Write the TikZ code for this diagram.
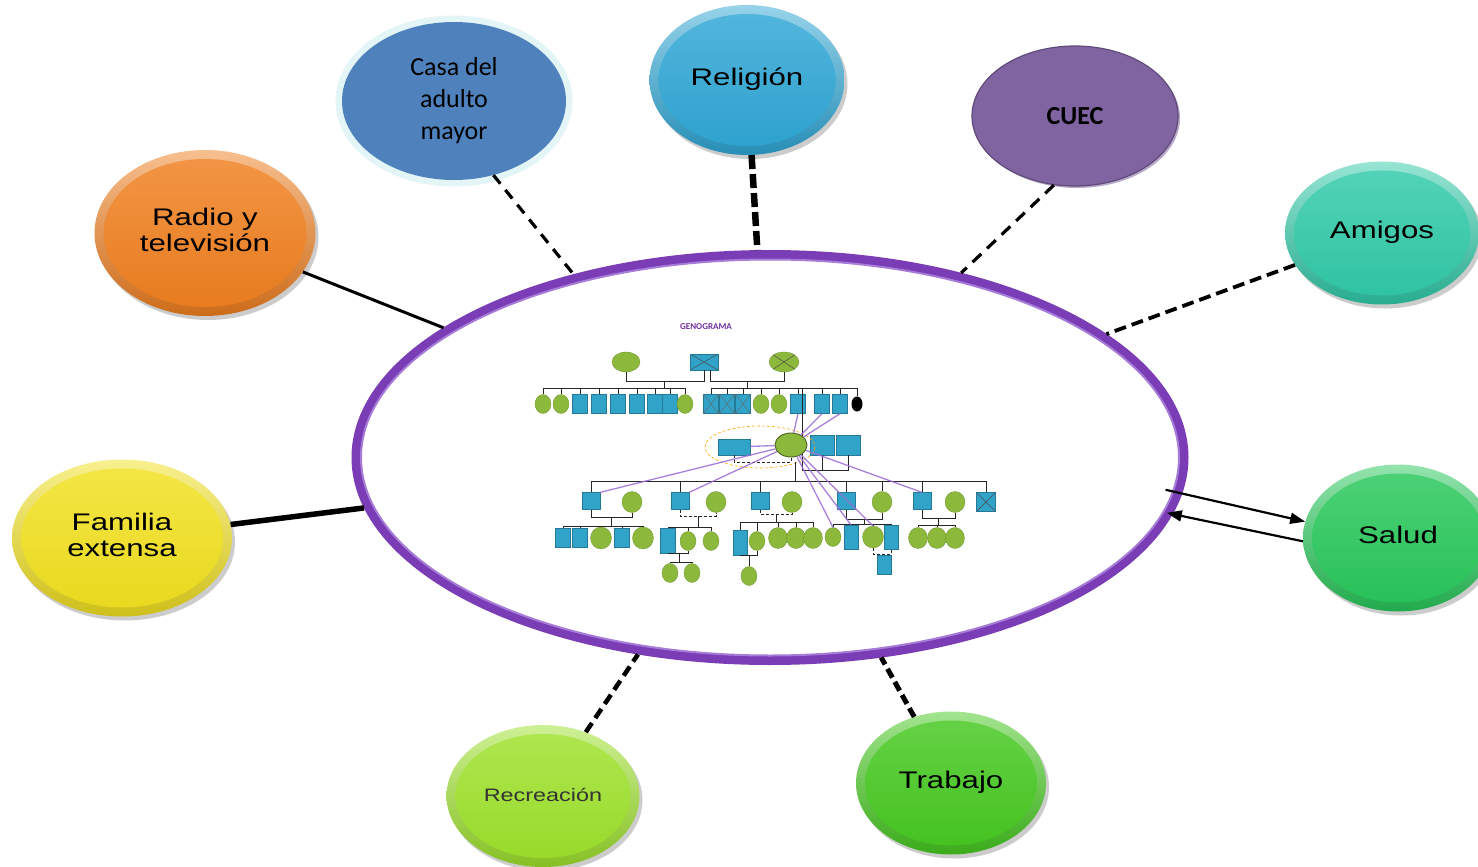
\documentclass[tikz,border=0pt]{standalone}
\usepackage{fontspec}
\usepackage{graphicx}
\usetikzlibrary{shapes.geometric,arrows.meta,shadows,calc}
\newfontfamily\arialf{Liberation Sans}
\newfontfamily\calibf{Carlito}
\definecolor{ringp}{HTML}{7B3DB5}
\definecolor{ringl}{HTML}{A77BD8}
\definecolor{cRadio}{HTML}{F07F1E}
\definecolor{cRel}{HTML}{2EA7D6}
\definecolor{cAmi}{HTML}{2FCAA8}
\definecolor{cSal}{HTML}{27C85A}
\definecolor{cTra}{HTML}{45C91F}
\definecolor{cRec}{HTML}{9DE22A}
\definecolor{cFam}{HTML}{F2E11E}
\definecolor{cCasa}{HTML}{4F81BD}
\definecolor{cGlow}{HTML}{E3F5F6}
\definecolor{cCuec}{HTML}{8064A2}
\definecolor{genob}{HTML}{31A2C8}
\definecolor{genog}{HTML}{8CB83C}
\definecolor{genot}{HTML}{7030A0}
\definecolor{linev}{HTML}{9B6BD6}
\newcommand\bubtext[2][24]{{\arialf\fontsize{#1}{26}\selectfont\scalebox{1.3}[1]{\begin{tabular}{@{}c@{}}#2\end{tabular}}}}
\tikzset{
  bub/.style={ellipse, inner sep=0pt, top color=#1!50!white, bottom color=#1!85!black,
    drop shadow={shadow xshift=3pt, shadow yshift=-4pt, opacity=0.2, fill=black},
    path picture={\shade[top color=#1!82!white, bottom color=#1!96!black]
      let \p1=(path picture bounding box.north east), \p2=(path picture bounding box.center)
      in (\p2) ellipse ({\x1-\x2-9pt} and {\y1-\y2-9pt});}},
  solidc/.style={draw=black, line cap=butt},
  dashc/.style={draw=black, dash pattern=on 12pt off 7pt},
  gm/.style={rectangle, fill=genob, draw=genob!75!black, line width=0.3pt, inner sep=0pt, minimum width=15pt, minimum height=19pt},
  gf/.style={ellipse, fill=genog, draw=genog!80!black, line width=0.3pt, inner sep=0pt, minimum width=16pt, minimum height=19pt},
  gx/.style={path picture={\draw[black!70, line width=0.5pt] (path picture bounding box.south west) -- (path picture bounding box.north east) (path picture bounding box.north west) -- (path picture bounding box.south east);}},
  gl/.style={draw=black!85, line width=0.8pt},
  pl/.style={draw=linev, line width=1.3pt, opacity=0.85},
}
\begin{document}
\begin{tikzpicture}[x=1pt,y=-1pt]
\useasboundingbox (0,0) rectangle (1478,867);
\fill[white] (0,0) rectangle (1478,867);

% central ring
\node[ellipse, draw=ringp, line width=9pt, fill=white, inner sep=0pt,
      minimum width=828pt, minimum height=406pt] (ring) at (770,457.5) {};
\draw[ringl, line width=2pt] (770,457.5) ellipse (409 and 198);

% outer bubbles
\node[bub=cRadio, minimum width=221pt, minimum height=166pt] (radio) at (205,233) {\bubtext{Radio y\\televisión}};
\node[bub=cRel, minimum width=195pt, minimum height=150pt] (rel) at (747,80) {\bubtext{Religión}};
\node[bub=cAmi, minimum width=194pt, minimum height=143pt] (ami) at (1382,233) {\bubtext{Amigos}};
\node[bub=cSal, minimum width=190pt, minimum height=147pt] (sal) at (1398,538) {\bubtext{Salud}};
\node[bub=cTra, minimum width=190pt, minimum height=143pt] (tra) at (951,783) {\bubtext{Trabajo}};
\node[bub=cRec, minimum width=193pt, minimum height=142pt] (rec) at (543,796) {\color{black!80}\bubtext[18]{Recreación}};
\node[bub=cFam, minimum width=220pt, minimum height=157pt] (fam) at (122,538) {\bubtext{Familia\\extensa}};
\node[ellipse, inner sep=0pt, fill=cCasa, preaction={draw=cGlow, line width=13pt},
      minimum width=224pt, minimum height=158pt] (casa) at (454,101)
      {\calibf\fontsize{26}{32}\selectfont\begin{tabular}{@{}c@{}}Casa del\\adulto\\mayor\end{tabular}};
\node[ellipse, inner sep=0pt, fill=cCuec, draw=cCuec!75!black, line width=1.2pt,
      drop shadow={shadow xshift=2pt, shadow yshift=-2pt, opacity=1, fill=cCuec!55!white},
      minimum width=206pt, minimum height=140pt] (cuec) at (1075,116)
      {\calibf\bfseries\fontsize{26}{30}\selectfont CUEC};

% connectors
\draw[solidc, line width=3pt] (radio) -- (ring);
\draw[solidc, line width=5.5pt] (fam) -- (ring);
\draw[dashc, line width=3.2pt, dash pattern=on 11pt off 8pt] (casa.-62) -- (ring.137);
\draw[dashc, line width=6.5pt, dash pattern=on 14pt off 5pt] (rel) -- (ring);
\draw[dashc, line width=3.2pt, dash pattern=on 12pt off 8pt] (cuec.-107) -- (ring.44);
\draw[dashc, line width=3.8pt, dash pattern=on 12pt off 6pt] (ami) -- (ring);
\draw[dashc, line width=5pt, dash pattern=on 10pt off 5pt] (tra) -- (ring);
\draw[dashc, line width=4.5pt, dash pattern=on 11pt off 6pt] (rec) -- (ring);
\draw[line width=2.2pt, -{Triangle[length=15pt,width=11pt]}, shorten <=-17pt] (ring.-5) -- (sal.170);
\draw[line width=2.2pt, -{Triangle[length=15pt,width=11pt]}, shorten >=-6pt] (sal.182) -- (ring.-8);

% ---------------- genogram ----------------
\node[font=\calibf\bfseries\fontsize{9}{10}\selectfont, text=genot] (gtitle) at (706,327) {GENOGRAMA};
% generation 1
\node[gf, minimum width=28pt, minimum height=20pt] (i1) at (626,362) {};
\node[gm, gx, minimum width=28pt, minimum height=16pt] (i2) at (704,362) {};
\node[gf, gx, minimum width=30pt, minimum height=20pt] (i3) at (784,362) {};
\draw[gl] (i1.south) -- (i1.south |- 0,381) -- (i2.south |- 0,381) -- (i2.south);
\draw[gl] (710,370) -- (710,381) -- (i3.south |- 0,381) -- (i3.south);
% children of first couple
\foreach \n/\x/\t in {a1/543/gf,a2/561/gf,a3/580/gm,a4/599/gm,a5/618/gm,a6/637/gm,a7/655/gm,a8/670/gm,a9/685/gf}
  {\node[\t] (\n) at (\x,404) {}; \draw[gl] (\n.north) -- (\n.north |- 0,388);}
\draw[gl] (a1.north |- 0,388) -- (a9.north |- 0,388);
\draw[gl] (664,381) -- (664,388);
% children of second couple
\foreach \n/\x/\t in {b1/711/gm,b2/727/gm,b3/743/gm,b4/761/gf,b5/779/gf,b6/798/gm,b7/822/gm,b8/840/gm}
  {\node[\t] (\n) at (\x,404) {}; \draw[gl] (\n.north) -- (\n.north |- 0,388);}
\foreach \n in {b1,b2,b3} {
  \draw[black!60, line width=0.4pt] (\n.south west) -- (\n.north east) (\n.north west) -- (\n.south east);}
\node[ellipse, fill=black, inner sep=0pt, minimum width=11pt, minimum height=15pt] (b9) at (857,404) {};
\draw[gl] (b9.north) -- (b9.north |- 0,388);
\draw[gl] (b1.north |- 0,388) -- (b9.north |- 0,388);
\draw[gl] (747,381) -- (747,388);
% generation 2
\node[gm, minimum width=32pt, minimum height=16pt] (rol) at (734,447) {};
\node[gf, minimum width=32pt, minimum height=24pt, draw=genog!55!black, line width=0.9pt] (lidia) at (791,445) {};
\node[gm, minimum width=24pt, minimum height=20pt] (s1) at (822,445) {};
\node[gm, minimum width=24pt, minimum height=20pt] (ric) at (848,445) {};
\draw[gl] (lidia.north east) -- (lidia.north east |- 0,388);
\draw[orange!70!yellow, densely dashed, line width=0.6pt] (760,447) ellipse (55 and 21);
\draw[gl, densely dashed] (rol.south) -- (rol.south |- 0,462) -- (lidia.south |- 0,462) -- (lidia.south);
\draw[gl] (lidia.south east) |- (ric.south |- 0,470) -- (ric.south);
\draw[gl] (s1.south) -- (s1.south |- 0,470);
\draw[gl] (795,462) -- (795,481);
% generation 3
\foreach \n/\x in {m1/591,m2/680,m3/760,m4/846,m5/922}
  {\node[gm, minimum width=18pt, minimum height=17pt] (\n) at (\x,501) {};}
\foreach \n/\x in {f1/632,f2/716,f3/792,f4/882,f5/955}
  {\node[gf, minimum width=20pt, minimum height=21pt] (\n) at (\x,502) {};}
\node[gm, gx, minimum width=19pt, minimum height=19pt] (m6) at (986,502) {};
\draw[gl] (m1.north |- 0,481) -- (m6.north |- 0,481);
\foreach \n in {m1,m2,m3,m4,f4,m5,m6} {\draw[gl] (\n.north) -- (\n.north |- 0,481);}
\draw[gl] (m1.south) -- (m1.south |- 0,517) -- (f1.south |- 0,517) -- (f1.south);
\draw[gl, densely dashed] (m2.south) -- (m2.south |- 0,516) -- (f2.south |- 0,516) -- (f2.south);
\draw[gl, densely dashed] (m3.south) -- (m3.south |- 0,514) -- (f3.south |- 0,514) -- (f3.south);
\draw[gl] (m4.south) -- (m4.south |- 0,519) -- (f4.south |- 0,519) -- (f4.south);
\draw[gl] (m5.south) -- (m5.south |- 0,518) -- (f5.south |- 0,518) -- (f5.south);
% generation 4
\foreach \n/\x/\t in {k11/563/gm,k12/580/gm,k14/622/gm}
  {\node[\t] (\n) at (\x,538) {};}
\foreach \n/\x in {k13/601,k15/643}
  {\node[gf, minimum width=21pt, minimum height=22pt] (\n) at (\x,538) {};}
\foreach \n in {k11,k12,k13,k14,k15} {\draw[gl] (\n.north) -- (\n.north |- 0,526);}
\draw[gl] (k11.north |- 0,526) -- (k15.north |- 0,526);
\draw[gl] (611,517) -- (611,526);
\node[gm, minimum width=15pt, minimum height=25pt] (k21) at (668,541) {};
\node[gf] (k22) at (688,541) {};
\node[gf] (k23) at (711,541) {};
\foreach \n in {k21,k22,k23} {\draw[gl] (\n.north) -- (\n.north |- 0,527);}
\draw[gl] (k21.north |- 0,527) -- (k23.north |- 0,527);
\draw[gl] (698,516) -- (698,527);
\node[gf] (k24) at (670,573) {};
\node[gf] (k25) at (692,573) {};
\draw[gl] (k21.south) -- (k22.south |- k21.south) -- (k22.south);
\draw[gl] (679,554) -- (679,562);
\draw[gl] (k24.north |- 0,562) -- (k25.north |- 0,562);
\foreach \n in {k24,k25} {\draw[gl] (\n.north) -- (\n.north |- 0,562);}
\node[gm, minimum width=14pt, minimum height=25pt] (k31) at (740,543) {};
\node[gf] (k32) at (757,541) {};
\foreach \n/\x in {k33/778,k34/796,k35/813} {\node[gf, minimum width=19pt, minimum height=21pt] (\n) at (\x,538) {};}
\foreach \n in {k31,k32,k33,k34,k35} {\draw[gl] (\n.north) -- (\n.north |- 0,522);}
\draw[gl] (k31.north |- 0,522) -- (k35.north |- 0,522);
\draw[gl] (776,514) -- (776,522);
\node[gf] (k36) at (749,576) {};
\draw[gl] (k31.south) -- (k32.south |- k31.south) -- (k32.south);
\draw[gl] (k36.north) -- (k36.north |- k31.south);
\node[gf] (k41) at (833,537) {};
\node[gm, minimum width=14pt, minimum height=24pt] (k42) at (851,537) {};
\node[gf, minimum width=21pt, minimum height=22pt] (k43) at (873,537) {};
\node[gm, minimum width=14pt, minimum height=24pt] (k44) at (891,537) {};
\foreach \n in {k41,k42,k43,k44} {\draw[gl] (\n.north) -- (\n.north |- 0,524);}
\draw[gl] (k41.north |- 0,524) -- (k44.north |- 0,524);
\draw[gl] (864,519) -- (864,524);
\node[gm, minimum width=14pt, minimum height=19pt] (k45) at (884,565) {};
\draw[gl, densely dashed] (k43.south) -- (k43.south |- 0,554) -- (k44.south |- 0,554) -- (k44.south);
\draw[gl, densely dashed] (k45.north) -- (k45.north |- 0,554);
\foreach \n/\x in {k51/918,k52/937,k53/955} {\node[gf, minimum width=19pt, minimum height=21pt] (\n) at (\x,538) {};}
\foreach \n in {k51,k52,k53} {\draw[gl] (\n.north) -- (\n.north |- 0,525);}
\draw[gl] (k51.north |- 0,525) -- (k53.north |- 0,525);
\draw[gl] (938,518) -- (938,525);
% emotional relationship lines
\draw[pl] (lidia) -- (rol);
\draw[pl] (lidia) -- (m1.north east);
\draw[pl] (lidia) -- (m2.north east);
\draw[pl] (lidia) -- (b6.south);
\draw[pl] (lidia) -- (b7.south);
\draw[pl] (lidia) -- (b8.south);
\draw[pl] (lidia) -- (m5.north);
\draw[pl] (lidia) -- (k41.north);
\draw[pl] (lidia) -- (k43.north);
\draw[pl] (lidia) -- (k42.north);
\end{tikzpicture}
\end{document}
